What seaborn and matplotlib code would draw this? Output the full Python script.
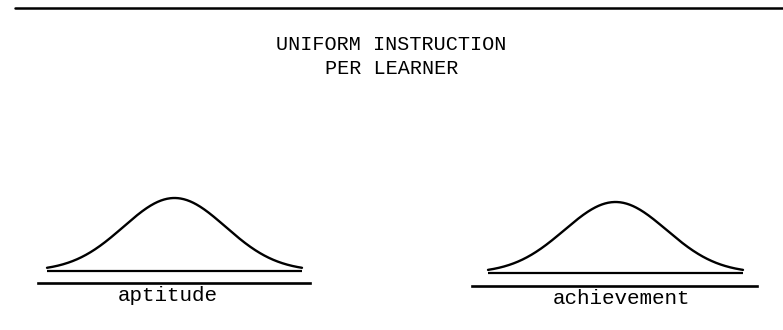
import numpy as np
import pandas as pd
import matplotlib
matplotlib.use("Agg")
import matplotlib.pyplot as plt
import seaborn as sns
from matplotlib.lines import Line2D

# ---- data ----
title_lines = ["UNIFORM INSTRUCTION", "PER LEARNER"]
panel_labels = ["aptitude", "achievement"]
curve_means = [0.0, 0.0]
curve_sds = [1.0, 1.0]
curve_extent_sd = 2.5   # curves drawn out to +/- 2.5 SD

sns.set_theme(style="white")
plt.rcParams["font.family"] = ["Liberation Mono", "DejaVu Sans Mono"]

W, H = 783, 330
fig = plt.figure(figsize=(W / 100, H / 100), dpi=100)
fig.patch.set_facecolor("white")

# layout (pixel geometry of each panel)
panels = [
    dict(left=38, right=310, spine=283, top=180, base=271, peak=198, c=174.5, sig=51, lab_x=0.478),
    dict(left=472, right=757, spine=286, top=180, base=273, peak=202, c=615.5, sig=51, lab_x=0.525),
]

for lab, mu, sd, p in zip(panel_labels, curve_means, curve_sds, panels):
    ax = fig.add_axes([p["left"] / W, (H - p["spine"]) / H,
                       (p["right"] - p["left"]) / W, (p["spine"] - p["top"]) / H])
    z = np.linspace(mu - curve_extent_sd * sd, mu + curve_extent_sd * sd, 400)
    dens = np.exp(-0.5 * ((z - mu) / sd) ** 2)
    df = pd.DataFrame({"z": z, "density": dens})
    sns.lineplot(data=df, x="z", y="density", ax=ax, color="black", lw=1.7)
    ax.hlines(0, z[0], z[-1], color="black", lw=1.6)
    unit = p["base"] - p["peak"]
    ax.set_ylim(-(p["spine"] - p["base"]) / unit, (p["base"] - p["top"]) / unit)
    ax.set_xlim((p["left"] - p["c"]) / p["sig"], (p["right"] - p["c"]) / p["sig"])
    for s in ["top", "left", "right"]:
        ax.spines[s].set_visible(False)
    ax.spines["bottom"].set_color("black")
    ax.spines["bottom"].set_linewidth(1.9)
    ax.set_xticks([])
    ax.set_yticks([])
    ax.set_ylabel("")
    ax.set_xlabel(lab, fontsize=15, color="black")
    ax.xaxis.set_label_coords(p["lab_x"], -0.03)
    ax.xaxis.label.set_va("top")
    ax.patch.set_alpha(0)

fig.text(0.5, 1 - 44 / H, title_lines[0], ha="center", va="center", fontsize=14.5, color="black")
fig.text(0.5, 1 - 68 / H, title_lines[1], ha="center", va="center", fontsize=14.5, color="black")

fig.add_artist(Line2D([15 / W, 1.0], [1 - 8 / H, 1 - 8 / H], transform=fig.transFigure,
                      color="black", lw=1.8))

fig.savefig("out.png", dpi=100, facecolor="white")
